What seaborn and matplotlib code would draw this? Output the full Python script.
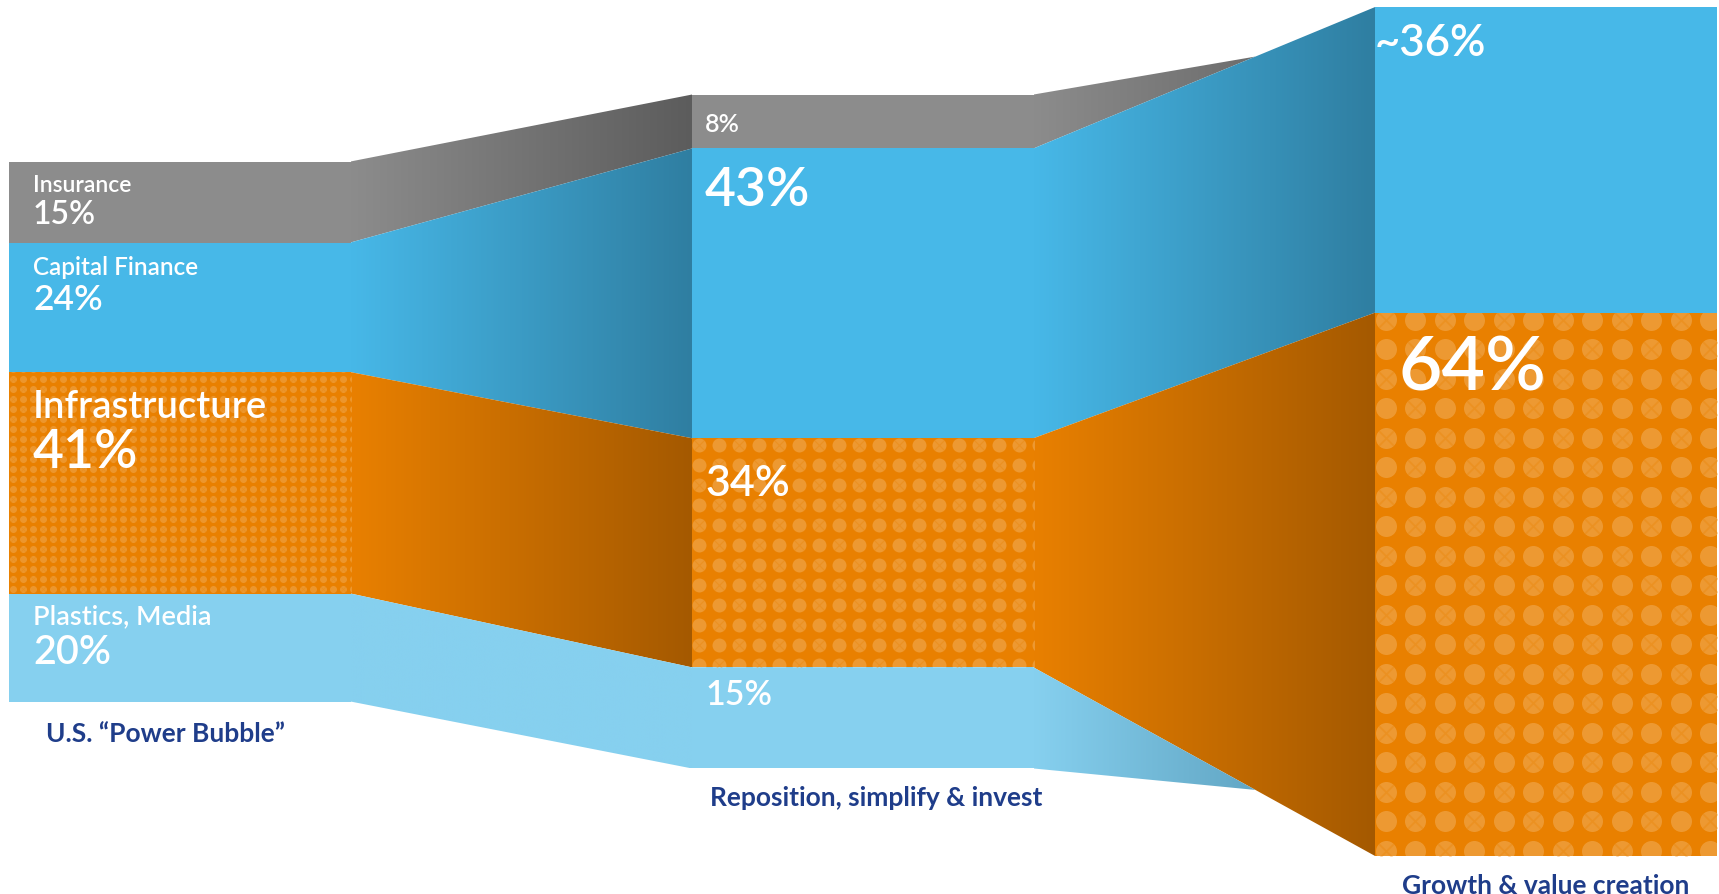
import numpy as np
import pandas as pd
import matplotlib
matplotlib.use("Agg")
import matplotlib.pyplot as plt
from matplotlib.patches import Polygon, Rectangle
from matplotlib.colors import to_rgba
import seaborn as sns

# data
stages = ["U.S. \u201cPower Bubble\u201d", "Reposition, simplify & invest", "Growth & value creation"]
categories = ["Insurance", "Capital Finance", "Infrastructure", "Plastics, Media"]
share_power = [15, 24, 41, 20]
share_reposition = [8, 43, 34, 15]
share_growth = [0, 36, 64, 0]
stage_size = [1.00, 1.248, 1.572]  # relative size of each stage's column
pct_power = ["15%", "24%", "41%", "20%"]
pct_reposition = ["8%", "43%", "34%", "15%"]
pct_growth = ["", "~36%", "64%", ""]

colors = {"Insurance": "#8c8c8c", "Capital Finance": "#47b8e8",
          "Infrastructure": "#e98000", "Plastics, Media": "#86d0ef"}
# colour at the right end of each ribbon (one dict per gap)
ribbon_end = [
    {"Insurance": "#5c5c5c", "Capital Finance": "#2f7ea1",
     "Infrastructure": "#a45900", "Plastics, Media": "#86d0ef"},
    {"Insurance": "#5c5c5c", "Capital Finance": "#2f7ea1",
     "Infrastructure": "#a45900", "Plastics, Media": "#4f90ad"},
]
NAVY = "#1f3d8a"

# layout: 683 px per stage, 5.4 px per unit of height
PX_X, PX_Y = 683, 5.4
BAR_W = 0.5
W, H = 1719, 895

sns.set_theme(style="white")
plt.rcParams['font.family'] = ['Lato', 'DejaVu Sans']

rows = []
for s, shares, size in zip(stages, [share_power, share_reposition, share_growth], stage_size):
    top = 50 * size
    for c, v in zip(categories, shares):
        h = v * size
        rows.append(dict(stage=s, category=c, height=h, bottom=top - h, top=top))
        top -= h
df = pd.DataFrame(rows)

fig = plt.figure(figsize=(W / 100, H / 100), dpi=100)
ax = fig.add_axes([0, 0, 1, 1])

# stacked columns
for c in categories:
    sub = df[df.category == c]
    sns.barplot(data=sub, x="stage", y="height", order=stages, color=colors[c],
                saturation=1, width=BAR_W, bottom=sub["bottom"].to_numpy(),
                errorbar=None, linewidth=0, ax=ax, zorder=2)


def seg(i, c):
    return df[(df.stage == stages[i]) & (df.category == c)].iloc[0]


# ribbons with a horizontal gradient
grad = np.linspace(0, 1, 512)[:, None]
for i in range(len(stages) - 1):
    x0 = i + BAR_W / 2
    x1 = i + 1 - BAR_W / 2
    for c in categories:
        a, b = seg(i, c), seg(i + 1, c)
        if a.height <= 0:
            continue
        if b.height > 0:
            pts = [(x0, a.top), (x1, b.top), (x1, b.bottom), (x0, a.bottom)]
        else:
            # vanishing band: runs to a point on its neighbour's edge
            inner = a.bottom if a.top >= 50 * stage_size[i] - 1e-9 else a.top
            xa = x0 + 0.65 * (x1 - x0)
            ya = inner + 0.65 * (b.top - inner)
            pts = [(x0, a.top), (xa, ya), (x0, a.bottom)]
        c0 = np.array(to_rgba(colors[c]))
        c1 = np.array(to_rgba(ribbon_end[i][c]))
        cols = (1 - grad) * c0 + grad * c1
        ys = [p[1] for p in pts]
        poly = Polygon(pts, closed=True, transform=ax.transData)
        im = ax.imshow(cols[None, :, :], extent=(x0, x1, min(ys), max(ys)),
                       aspect='auto', interpolation='bilinear', origin='lower', zorder=1)
        im.set_clip_path(poly)

# dotted texture on the Infrastructure blocks
dot_spacing = [10, 20, 29.5]
dot_diam = [7, 14, 21]
dot_alpha = [0.18, 0.2, 0.2]
for i in range(len(stages)):
    r = seg(i, "Infrastructure")
    left = i - BAR_W / 2
    sp = dot_spacing[i]
    xs = left + (dot_diam[i] / 2 + np.arange(0, BAR_W * PX_X, sp)) / PX_X
    yv = r.top - (7 + np.arange(-sp, r.height * PX_Y + sp, sp)) / PX_Y
    gx, gy = np.meshgrid(xs, yv)
    chk = ((np.arange(len(yv))[:, None] + np.arange(len(xs))[None, :]) % 2) == 1
    clip = Rectangle((left, r.bottom), BAR_W, r.height, transform=ax.transData)
    d_pt = dot_diam[i] * 0.72
    sc = ax.scatter(gx.ravel(), gy.ravel(), s=d_pt ** 2, color="white",
                    alpha=dot_alpha[i], linewidths=0, zorder=3)
    sc.set_clip_path(clip)
    sx = ax.scatter(gx[chk], gy[chk], s=(d_pt * 0.7) ** 2, marker="x",
                    color=colors["Infrastructure"], alpha=0.3,
                    linewidths=max(0.5, dot_diam[i] / 16), zorder=4)
    sx.set_clip_path(clip)


def label(i, c, text, dy, size, dx, weight="normal"):
    r = seg(i, c)
    ax.annotate(text, xy=(i - BAR_W / 2, r.top), xytext=(dx, -dy),
                textcoords="offset pixels", ha="left", va="baseline",
                color="white", fontsize=size, fontweight=weight, zorder=6)


# stage 1 names and shares
name_style = {"Insurance": (30, 16.5), "Capital Finance": (32, 17.5),
              "Infrastructure": (45, 27.5), "Plastics, Media": (30, 19.5)}
pct1_style = [(62, 23), (67, 25.5), (95, 38.5), (70, 28.5)]
for c, t, st in zip(categories, pct_power, pct1_style):
    label(0, c, c, name_style[c][0], name_style[c][1], 24, "semibold")
    label(0, c, t, st[0], st[1], 24, "semibold")

pct2_style = [(36, 18), (57, 38.5), (57, 31), (37, 24.5)]
for c, t, st in zip(categories, pct_reposition, pct2_style):
    label(1, c, t, st[0], st[1], 13, "semibold")

pct3_style = [(0, 0, 0), (48, 31.5, 0), (77, 54, 23), (0, 0, 0)]
for c, t, st in zip(categories, pct_growth, pct3_style):
    if t:
        label(2, c, t, st[0], st[1], st[2], "semibold")

# stage captions under each column
cap_off = [(37, 40), (18, 37), (27, 37)]
for i, s in enumerate(stages):
    bottom = -50 * stage_size[i]
    ax.annotate(s, xy=(i - BAR_W / 2, bottom), xytext=(cap_off[i][0], -cap_off[i][1]),
                textcoords="offset pixels", ha="left", va="baseline",
                color=NAVY, fontsize=19, fontweight="bold", zorder=6)

ax.set_xlim(-BAR_W / 2 - 9 / PX_X, -BAR_W / 2 + (W - 9) / PX_X)
ax.set_ylim((432.5 - H) / PX_Y, 432.5 / PX_Y)
ax.axis("off")

fig.savefig("out.png", dpi=100)
